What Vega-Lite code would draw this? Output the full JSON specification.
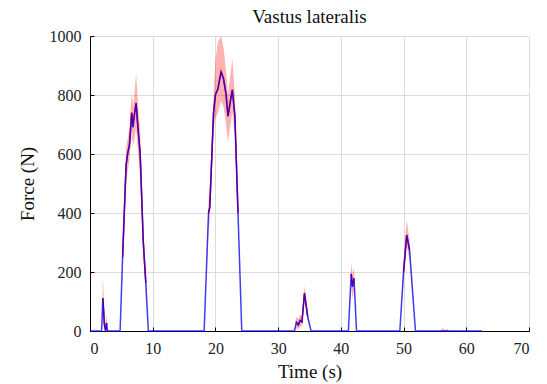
{
  "$schema": "https://vega.github.io/schema/vega-lite/v6.json",
  "autosize": {"type": "none"},
  "width": 439,
  "height": 295,
  "padding": {"left": 90, "top": 36, "right": 18, "bottom": 53},
  "background": "white",
  "title": {"text": "Vastus lateralis", "font": "Liberation Serif", "fontSize": 19, "fontWeight": "normal", "color": "#111", "offset": 1},
  "config": {
    "view": {"stroke": null},
    "axis": {
      "labelFont": "Liberation Serif", "labelFontSize": 16, "labelColor": "#222",
      "titleFont": "Liberation Serif", "titleFontSize": 19, "titleFontWeight": "normal", "titleColor": "#111",
      "domainColor": "#000", "domainWidth": 1, "tickColor": "#000", "tickSize": -4, "tickWidth": 1,
      "gridColor": "#dcdcdc", "gridWidth": 1
    }
  },
  "data": {"values": [
    {"t": 0, "b": 0, "r": null, "lo": 0, "hi": 0},
    {"t": 1.85, "b": 0, "r": null, "lo": 0, "hi": 0},
    {"t": 2.05, "b": 112, "r": 112, "lo": 60, "hi": 184},
    {"t": 2.3, "b": 20, "r": 22, "lo": 0, "hi": 60},
    {"t": 2.5, "b": 0, "r": 3, "lo": 0, "hi": 20},
    {"t": 2.65, "b": 27, "r": 28, "lo": 5, "hi": 60},
    {"t": 2.8, "b": 0, "r": null, "lo": 0, "hi": 0},
    {"t": 4.8, "b": 0, "r": null, "lo": 0, "hi": 0},
    {"t": 5.2, "b": 250, "r": 250, "lo": 220, "hi": 290},
    {"t": 5.75, "b": 560, "r": 562, "lo": 500, "hi": 620},
    {"t": 6.0, "b": 600, "r": 602, "lo": 540, "hi": 650},
    {"t": 6.3, "b": 630, "r": 633, "lo": 580, "hi": 690},
    {"t": 6.65, "b": 739, "r": 741, "lo": 670, "hi": 810},
    {"t": 6.85, "b": 690, "r": 692, "lo": 630, "hi": 760},
    {"t": 7.0, "b": 720, "r": 722, "lo": 640, "hi": 790},
    {"t": 7.35, "b": 772, "r": 773, "lo": 690, "hi": 874},
    {"t": 7.6, "b": 700, "r": 702, "lo": 620, "hi": 790},
    {"t": 8.0, "b": 600, "r": 601, "lo": 520, "hi": 680},
    {"t": 8.5, "b": 300, "r": 300, "lo": 250, "hi": 350},
    {"t": 8.9, "b": 163, "r": 163, "lo": 130, "hi": 200},
    {"t": 9.3, "b": 0, "r": null, "lo": 0, "hi": 0},
    {"t": 18.2, "b": 0, "r": null, "lo": 0, "hi": 0},
    {"t": 18.9, "b": 400, "r": 400, "lo": 340, "hi": 440},
    {"t": 19.1, "b": 420, "r": 421, "lo": 380, "hi": 480},
    {"t": 19.7, "b": 739, "r": 740, "lo": 680, "hi": 800},
    {"t": 20.0, "b": 800, "r": 802, "lo": 720, "hi": 920},
    {"t": 20.4, "b": 820, "r": 822, "lo": 740, "hi": 980},
    {"t": 20.9, "b": 879, "r": 880, "lo": 780, "hi": 1000},
    {"t": 21.3, "b": 853, "r": 855, "lo": 760, "hi": 960},
    {"t": 21.7, "b": 800, "r": 802, "lo": 700, "hi": 880},
    {"t": 22.0, "b": 727, "r": 729, "lo": 640, "hi": 800},
    {"t": 22.4, "b": 780, "r": 782, "lo": 700, "hi": 870},
    {"t": 22.7, "b": 817, "r": 818, "lo": 740, "hi": 925},
    {"t": 23.1, "b": 730, "r": 731, "lo": 660, "hi": 800},
    {"t": 23.6, "b": 400, "r": 400, "lo": 370, "hi": 430},
    {"t": 24.2, "b": 0, "r": null, "lo": 0, "hi": 0},
    {"t": 32.6, "b": 0, "r": null, "lo": 0, "hi": 0},
    {"t": 32.9, "b": 30, "r": 31, "lo": 10, "hi": 50},
    {"t": 33.2, "b": 20, "r": 21, "lo": 5, "hi": 40},
    {"t": 33.5, "b": 35, "r": 36, "lo": 15, "hi": 55},
    {"t": 33.8, "b": 30, "r": 31, "lo": 15, "hi": 50},
    {"t": 34.2, "b": 128, "r": 129, "lo": 105, "hi": 153},
    {"t": 34.7, "b": 50, "r": 51, "lo": 35, "hi": 65},
    {"t": 35.25, "b": 0, "r": null, "lo": 0, "hi": 0},
    {"t": 41.2, "b": 0, "r": null, "lo": 0, "hi": 0},
    {"t": 41.65, "b": 193, "r": 194, "lo": 150, "hi": 232},
    {"t": 41.85, "b": 150, "r": 151, "lo": 110, "hi": 190},
    {"t": 42.1, "b": 178, "r": 179, "lo": 140, "hi": 215},
    {"t": 42.5, "b": 0, "r": null, "lo": 0, "hi": 0},
    {"t": 49.4, "b": 0, "r": null, "lo": 0, "hi": 0},
    {"t": 50.0, "b": 200, "r": 201, "lo": 170, "hi": 240},
    {"t": 50.5, "b": 325, "r": 326, "lo": 290, "hi": 376},
    {"t": 50.95, "b": 275, "r": 276, "lo": 240, "hi": 310},
    {"t": 51.9, "b": 0, "r": null, "lo": 0, "hi": 0},
    {"t": 55.8, "b": 0, "r": null, "lo": 0, "hi": 0},
    {"t": 56.2, "b": 0, "r": null, "lo": 0, "hi": 9},
    {"t": 56.6, "b": 0, "r": null, "lo": 0, "hi": 4},
    {"t": 57.0, "b": 0, "r": null, "lo": 0, "hi": 8},
    {"t": 57.3, "b": 0, "r": null, "lo": 0, "hi": 0},
    {"t": 62.5, "b": 0, "r": null, "lo": 0, "hi": 0}
  ]},
  "encoding": {
    "x": {"field": "t", "type": "quantitative", "title": "Time (s)",
      "scale": {"domain": [0, 70], "nice": false},
      "axis": {"values": [0, 10, 20, 30, 40, 50, 60, 70], "labelPadding": 13, "titlePadding": 6, "grid": true}}
  },
  "layer": [
    {
      "mark": {"type": "area", "color": "#ff0000", "opacity": 0.3},
      "encoding": {
        "y": {"field": "lo", "type": "quantitative", "title": "Force (N)",
          "scale": {"domain": [0, 1000], "nice": false},
          "axis": {"values": [0, 200, 400, 600, 800, 1000], "format": "d", "labelPadding": 13, "titlePadding": 12, "grid": true}},
        "y2": {"field": "hi"}
      }
    },
    {
      "mark": {"type": "line", "color": "#ff0000", "strokeWidth": 1.5},
      "encoding": {"y": {"field": "r", "type": "quantitative"}}
    },
    {
      "mark": {"type": "line", "color": "#0000ff", "opacity": 0.75, "strokeWidth": 1.5},
      "encoding": {"y": {"field": "b", "type": "quantitative"}}
    }
  ]
}
